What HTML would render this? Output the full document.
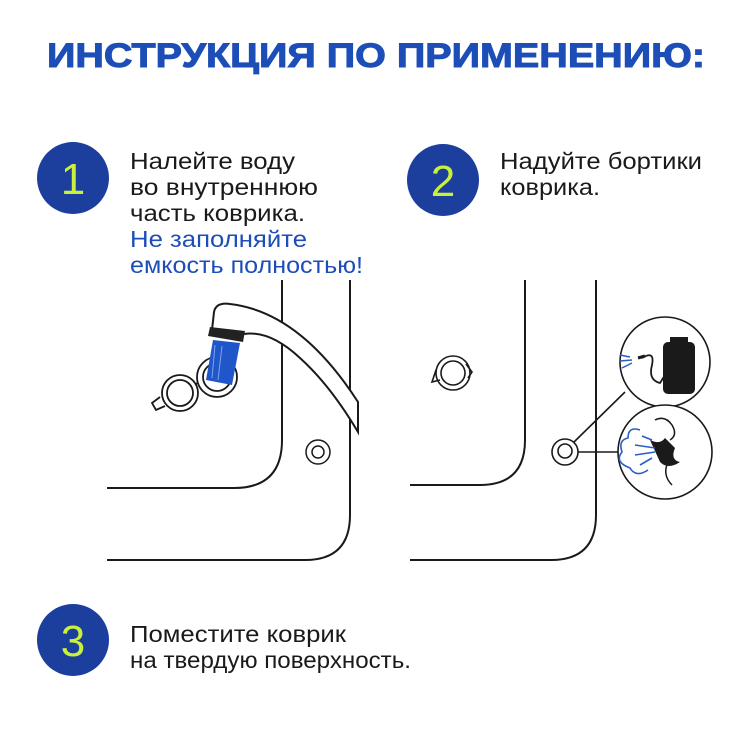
<!DOCTYPE html>
<html><head><meta charset="utf-8"><style>
html,body{margin:0;padding:0;background:#fff;width:750px;height:750px;overflow:hidden}
svg{display:block}
text{font-family:"Liberation Sans","DejaVu Sans",sans-serif}
</style></head><body>
<svg width="750" height="750" viewBox="0 0 750 750" xmlns="http://www.w3.org/2000/svg">
<rect width="750" height="750" fill="#fff"/>
<text x="47" y="67" font-size="34" font-weight="bold" fill="#1d4eb8" stroke="#1d4eb8" stroke-width="1" textLength="658" lengthAdjust="spacingAndGlyphs">ИНСТРУКЦИЯ ПО ПРИМЕНЕНИЮ:</text>

<g font-size="44" fill="#c8f03c" text-anchor="middle">
<circle cx="73" cy="178" r="36" fill="#1c3f9e"/><text x="73" y="194">1</text>
<circle cx="443" cy="180" r="36" fill="#1c3f9e"/><text x="443" y="196">2</text>
<circle cx="73" cy="640" r="36" fill="#1c3f9e"/><text x="73" y="656">3</text>
</g>

<g font-size="23" fill="#1a1a1a">
<text x="130" y="169" textLength="165" lengthAdjust="spacingAndGlyphs">Налейте воду</text>
<text x="130" y="195" textLength="188" lengthAdjust="spacingAndGlyphs">во внутреннюю</text>
<text x="130" y="221" textLength="175" lengthAdjust="spacingAndGlyphs">часть коврика.</text>
<text x="130" y="247" fill="#1d4eb8" textLength="177" lengthAdjust="spacingAndGlyphs">Не заполняйте</text>
<text x="130" y="273" fill="#1d4eb8" textLength="233" lengthAdjust="spacingAndGlyphs">емкость полностью!</text>
<text x="500" y="169" textLength="202" lengthAdjust="spacingAndGlyphs">Надуйте бортики</text>
<text x="500" y="195" textLength="100" lengthAdjust="spacingAndGlyphs">коврика.</text>
<text x="130" y="642" textLength="216" lengthAdjust="spacingAndGlyphs">Поместите коврик</text>
<text x="130" y="668" textLength="281" lengthAdjust="spacingAndGlyphs">на твердую поверхность.</text>
</g>

<g fill="none" stroke="#1a1a1a" stroke-width="2">
<path d="M282 280 V440 Q282 488 234 488 H107"/>
<path d="M350 280 V515 Q350 560 305 560 H107"/>
<path d="M525 280 V440 Q525 485 480 485 H410"/>
<path d="M596 280 V515 Q596 560 551 560 H410"/>
</g>

<g fill="none" stroke="#1a1a1a" stroke-width="1.5">
<circle cx="318" cy="452" r="12"/><circle cx="318" cy="452" r="6"/>
</g>
<g fill="#fff" stroke="#1a1a1a" stroke-width="2">
<path d="M214 312 Q216 302 230 304 Q300 312 358 402 L358 432 Q330 385 300 358 Q270 330 244 334 L212 330 Z"/>
</g>
<path d="M210 327 L245 331 L243 342 L208 336 Z" fill="#222"/>
<g fill="#fff" stroke="#1a1a1a" stroke-width="1.8">
<path d="M160 397 L152 403 L156 410 L165 406"/>
<path d="M190 388 L205 378" />
<circle cx="180" cy="393" r="18"/><circle cx="180" cy="393" r="13"/>
<circle cx="217" cy="377" r="20"/><circle cx="217" cy="377" r="14"/>
</g>
<path d="M213 340 L240 343 L232 385 L206 380 Z" fill="#1f56c9"/>
<path d="M215 345 L212 378 M222 346 L218 380" stroke="#7fa6ea" stroke-width="1"/>

<g fill="none" stroke="#1a1a1a" stroke-width="1.6">
<circle cx="453" cy="373" r="17"/><circle cx="453" cy="373" r="12"/>
<path d="M436 370 L432 382 L440 380 M466 364 L472 372 L468 378"/>
<circle cx="565" cy="452" r="13"/><circle cx="565" cy="451" r="7"/>
<path d="M574 442 L625 392 M578 452 L618 452"/>
<circle cx="665" cy="362" r="45" fill="#fff"/>
<circle cx="665" cy="452" r="47" fill="#fff"/>
</g>
<rect x="663" y="342" width="32" height="52" rx="5" fill="#1a1a1a"/>
<rect x="670" y="337" width="18" height="7" fill="#1a1a1a"/>
<path d="M642 358 Q655 350 652 365 Q648 380 660 383 L665 375" fill="none" stroke="#1a1a1a" stroke-width="1.8"/>
<path d="M638 358 L645 356" stroke="#1a1a1a" stroke-width="3"/>
<g stroke="#2a5cc8" stroke-width="1.5"><path d="M620 355 L630 357 M620 361 L632 360 M622 368 L632 363"/></g>
<path d="M650 440 Q660 445 665 438 L675 448 Q670 460 680 462 Q668 470 660 462 Z" fill="#1a1a1a"/>
<path d="M655 420 Q665 415 672 425 Q678 435 670 440 M668 462 Q662 475 672 485" fill="none" stroke="#1a1a1a" stroke-width="1.5"/>
<g fill="none" stroke="#2a5cc8" stroke-width="1.6">
<path d="M640 430 Q628 426 628 438 Q618 440 622 452 Q614 462 630 468 Q636 478 648 470"/>
<path d="M635 445 L655 448 M635 455 L655 452 M640 465 L652 458 M642 436 L652 440"/>
</g>
</svg>
</body></html>
